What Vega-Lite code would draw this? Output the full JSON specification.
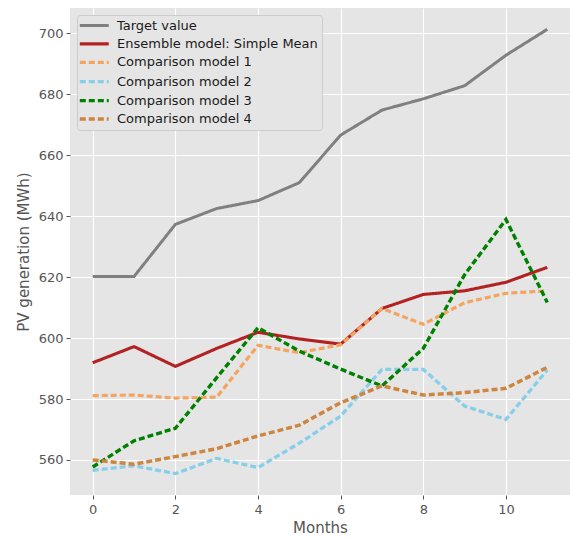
{
  "$schema": "https://vega.github.io/schema/vega-lite/v6.json",
  "autosize": {"type": "none"},
  "width": 500,
  "height": 487,
  "padding": {"left": 70, "top": 8, "right": 1, "bottom": 43},
  "background": "white",
  "config": {
    "font": "DejaVu Sans",
    "view": {"fill": "#E5E5E5", "stroke": null},
    "axis": {
      "domain": false,
      "grid": true,
      "gridColor": "#FFFFFF",
      "gridWidth": 1.2,
      "tickColor": "#555555",
      "tickSize": 4,
      "tickWidth": 1,
      "labelColor": "#555555",
      "labelFontSize": 13,
      "labelFont": "DejaVu Sans",
      "titleColor": "#555555",
      "titleFontSize": 15,
      "titleFont": "DejaVu Sans",
      "titleFontWeight": "normal"
    },
    "legend": {
      "orient": "top-left",
      "offset": 7,
      "fillColor": "#E5E5E5",
      "strokeColor": "#CCCCCC",
      "cornerRadius": 3,
      "padding": 4,
      "labelFontSize": 13,
      "labelFont": "DejaVu Sans",
      "labelColor": "#1a1a1a",
      "symbolType": "M-1.7,0H4.3",
      "symbolSize": 93,
      "labelOffset": 22,
      "rowPadding": 4.4,
      "labelLimit": 400
    }
  },
  "data": {
    "values": [
      {"month": 0, "series": "Target value", "value": 620.2},
      {"month": 1, "series": "Target value", "value": 620.2},
      {"month": 2, "series": "Target value", "value": 637.3},
      {"month": 3, "series": "Target value", "value": 642.5},
      {"month": 4, "series": "Target value", "value": 645.1},
      {"month": 5, "series": "Target value", "value": 651.0},
      {"month": 6, "series": "Target value", "value": 666.6},
      {"month": 7, "series": "Target value", "value": 674.8},
      {"month": 8, "series": "Target value", "value": 678.5},
      {"month": 9, "series": "Target value", "value": 682.8},
      {"month": 10, "series": "Target value", "value": 692.8},
      {"month": 11, "series": "Target value", "value": 701.3},

      {"month": 0, "series": "Ensemble model: Simple Mean", "value": 591.9},
      {"month": 1, "series": "Ensemble model: Simple Mean", "value": 597.2},
      {"month": 2, "series": "Ensemble model: Simple Mean", "value": 590.7},
      {"month": 3, "series": "Ensemble model: Simple Mean", "value": 596.6},
      {"month": 4, "series": "Ensemble model: Simple Mean", "value": 601.9},
      {"month": 5, "series": "Ensemble model: Simple Mean", "value": 599.7},
      {"month": 6, "series": "Ensemble model: Simple Mean", "value": 598.0},
      {"month": 7, "series": "Ensemble model: Simple Mean", "value": 609.7},
      {"month": 8, "series": "Ensemble model: Simple Mean", "value": 614.3},
      {"month": 9, "series": "Ensemble model: Simple Mean", "value": 615.5},
      {"month": 10, "series": "Ensemble model: Simple Mean", "value": 618.3},
      {"month": 11, "series": "Ensemble model: Simple Mean", "value": 623.2},

      {"month": 0, "series": "Comparison model 1", "value": 581.1},
      {"month": 1, "series": "Comparison model 1", "value": 581.3},
      {"month": 2, "series": "Comparison model 1", "value": 580.3},
      {"month": 3, "series": "Comparison model 1", "value": 580.6},
      {"month": 4, "series": "Comparison model 1", "value": 597.6},
      {"month": 5, "series": "Comparison model 1", "value": 595.2},
      {"month": 6, "series": "Comparison model 1", "value": 597.8},
      {"month": 7, "series": "Comparison model 1", "value": 609.7},
      {"month": 8, "series": "Comparison model 1", "value": 604.5},
      {"month": 9, "series": "Comparison model 1", "value": 611.6},
      {"month": 10, "series": "Comparison model 1", "value": 614.7},
      {"month": 11, "series": "Comparison model 1", "value": 615.5},

      {"month": 0, "series": "Comparison model 2", "value": 556.6},
      {"month": 1, "series": "Comparison model 2", "value": 558.1},
      {"month": 2, "series": "Comparison model 2", "value": 555.5},
      {"month": 3, "series": "Comparison model 2", "value": 560.5},
      {"month": 4, "series": "Comparison model 2", "value": 557.5},
      {"month": 5, "series": "Comparison model 2", "value": 565.5},
      {"month": 6, "series": "Comparison model 2", "value": 574.4},
      {"month": 7, "series": "Comparison model 2", "value": 589.7},
      {"month": 8, "series": "Comparison model 2", "value": 589.7},
      {"month": 9, "series": "Comparison model 2", "value": 577.7},
      {"month": 10, "series": "Comparison model 2", "value": 573.3},
      {"month": 11, "series": "Comparison model 2", "value": 589.5},

      {"month": 0, "series": "Comparison model 3", "value": 557.7},
      {"month": 1, "series": "Comparison model 3", "value": 566.3},
      {"month": 2, "series": "Comparison model 3", "value": 570.4},
      {"month": 3, "series": "Comparison model 3", "value": 587.0},
      {"month": 4, "series": "Comparison model 3", "value": 603.4},
      {"month": 5, "series": "Comparison model 3", "value": 595.7},
      {"month": 6, "series": "Comparison model 3", "value": 589.8},
      {"month": 7, "series": "Comparison model 3", "value": 584.3},
      {"month": 8, "series": "Comparison model 3", "value": 596.6},
      {"month": 9, "series": "Comparison model 3", "value": 620.8},
      {"month": 10, "series": "Comparison model 3", "value": 638.9},
      {"month": 11, "series": "Comparison model 3", "value": 611.7},

      {"month": 0, "series": "Comparison model 4", "value": 560.0},
      {"month": 1, "series": "Comparison model 4", "value": 558.6},
      {"month": 2, "series": "Comparison model 4", "value": 561.1},
      {"month": 3, "series": "Comparison model 4", "value": 563.7},
      {"month": 4, "series": "Comparison model 4", "value": 567.9},
      {"month": 5, "series": "Comparison model 4", "value": 571.4},
      {"month": 6, "series": "Comparison model 4", "value": 578.8},
      {"month": 7, "series": "Comparison model 4", "value": 584.3},
      {"month": 8, "series": "Comparison model 4", "value": 581.3},
      {"month": 9, "series": "Comparison model 4", "value": 582.1},
      {"month": 10, "series": "Comparison model 4", "value": 583.5},
      {"month": 11, "series": "Comparison model 4", "value": 590.4}
    ]
  },
  "encoding": {
    "x": {
      "field": "month", "type": "quantitative",
      "scale": {"domain": [-0.55, 11.55], "nice": false, "zero": false},
      "axis": {"values": [0, 2, 4, 6, 8, 10], "title": "Months", "labelPadding": 4, "titlePadding": 4, "format": "d"}
    },
    "y": {
      "field": "value", "type": "quantitative",
      "scale": {"domain": [548.5, 708.3], "nice": false, "zero": false},
      "axis": {"values": [560, 580, 600, 620, 640, 660, 680, 700], "title": "PV generation (MWh)", "labelPadding": 3, "titlePadding": 7, "format": "d"}
    },
    "color": {
      "field": "series", "type": "nominal",
      "scale": {
        "domain": ["Target value", "Ensemble model: Simple Mean", "Comparison model 1", "Comparison model 2", "Comparison model 3", "Comparison model 4"],
        "range": ["#808080", "#B22222", "#F4A460", "#87CEEB", "#008000", "#CD853F"]
      },
      "legend": {"title": null}
    },
    "strokeDash": {
      "field": "series", "type": "nominal",
      "scale": {
        "domain": ["Target value", "Ensemble model: Simple Mean", "Comparison model 1", "Comparison model 2", "Comparison model 3", "Comparison model 4"],
        "range": [[1, 0], [1, 0], [6, 3], [6, 3], [6, 3], [6, 3]]
      },
      "legend": {"title": null}
    },
    "strokeWidth": {
      "field": "series", "type": "nominal",
      "scale": {
        "domain": ["Target value", "Ensemble model: Simple Mean", "Comparison model 1", "Comparison model 2", "Comparison model 3", "Comparison model 4"],
        "range": [3, 3.5, 1.6, 1.6, 1.6, 1.6]
      },
      "legend": {"title": null}
    }
  },
  "layer": [
    {
      "transform": [{"filter": "datum.series === 'Target value' || datum.series === 'Ensemble model: Simple Mean'"}],
      "mark": {"type": "line", "strokeCap": "butt"}
    },
    {
      "transform": [{"filter": "datum.series !== 'Target value' && datum.series !== 'Ensemble model: Simple Mean'"}],
      "mark": {"type": "line", "strokeCap": "butt"}
    }
  ]
}
